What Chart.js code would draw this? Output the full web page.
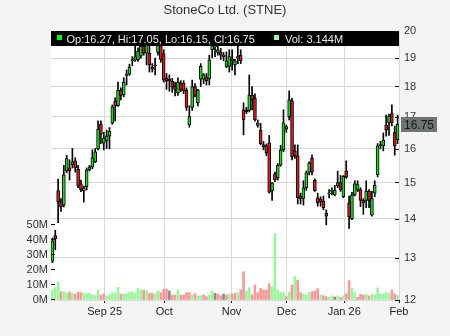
<!DOCTYPE html>
<html>
<head>
<meta charset="utf-8">
<script src="https://cdn.jsdelivr.net/npm/chart.js@4.4.1/dist/chart.umd.min.js"></script>
<style>
  html, body { margin: 0; padding: 0; background: #f4f4f4; }
  canvas { display: block; }
</style>
</head>
<body>
<canvas id="chart" width="450" height="336"></canvas>
<script>
// ----------------------
// DATA (daily candles)
// ----------------------
const opens = [
  12.92, 13.56, 14.77, 14.46, 14.37, 15.33, 15.42, 15.51, 15.63, 15.39,
  14.96, 14.76, 14.88, 15.36, 15.45, 15.60, 15.99, 16.76, 16.16, 16.23,
  16.38, 16.80, 17.50, 17.36, 17.88, 17.71, 18.38, 18.43, 18.90, 18.92,
  18.93, 19.07, 19.44, 19.18, 19.18, 18.68, 18.75, 19.20, 19.45, 19.15,
  18.30, 18.25, 18.18, 18.00, 17.78, 18.12, 18.12, 17.88, 16.73, 17.30,
  18.00, 17.45, 18.25, 18.25, 18.33, 18.25, 19.30, 19.40, 19.20, 19.22,
  19.05, 18.70, 18.70, 18.90, 18.75, 19.00, 19.10, 17.22, 17.22, 17.20,
  17.71, 17.60, 16.72, 16.57, 16.11, 16.08, 16.17, 14.76, 15.25, 15.13,
  15.50, 15.96, 16.60, 17.00, 17.52, 15.93, 15.78, 14.62, 14.55, 14.85,
  15.30, 15.72, 15.07, 14.57, 14.54, 14.48, 14.15, 14.68, 14.75, 14.65,
  14.90, 15.00, 14.60, 15.33, 14.43, 14.00, 14.65, 14.79, 14.80, 14.50,
  14.50, 14.76, 14.10, 14.70, 15.22, 16.08, 16.08, 16.73, 16.80, 17.10,
  16.49, 16.27
];
const highs = [
  13.50, 13.70, 15.10, 14.55, 15.50, 15.80, 15.66, 16.00, 15.72, 15.50,
  15.07, 14.90, 15.42, 15.50, 15.96, 16.00, 16.86, 16.86, 16.50, 16.57,
  16.65, 17.38, 17.62, 18.15, 17.95, 18.30, 18.57, 18.78, 19.05, 19.48,
  19.37, 19.70, 19.66, 19.55, 19.48, 18.80, 19.00, 19.80, 19.60, 19.30,
  18.45, 18.40, 18.28, 18.15, 18.30, 18.20, 18.20, 17.95, 17.35, 18.22,
  18.10, 17.90, 18.80, 18.45, 18.45, 19.10, 19.60, 19.60, 19.50, 19.35,
  19.20, 19.22, 19.30, 19.30, 18.95, 19.48, 19.30, 17.45, 17.30, 18.40,
  18.00, 17.75, 16.89, 16.78, 16.22, 16.14, 16.40, 15.00, 15.30, 15.55,
  16.10, 17.22, 16.73, 17.85, 17.60, 16.11, 16.11, 14.70, 15.05, 15.33,
  15.60, 15.81, 15.10, 14.70, 14.60, 14.62, 14.24, 14.80, 14.85, 14.92,
  15.33, 15.20, 15.20, 15.63, 14.62, 14.72, 15.05, 15.05, 14.85, 14.55,
  15.05, 14.80, 14.75, 15.05, 16.15, 16.22, 16.48, 17.05, 17.08, 17.38,
  16.70, 17.05
];
const lows = [
  12.88, 13.20, 13.90, 14.20, 14.32, 15.28, 15.07, 15.42, 15.30, 14.85,
  14.74, 14.45, 14.79, 15.33, 15.40, 15.57, 15.96, 16.15, 15.96, 16.00,
  15.99, 16.75, 16.86, 17.33, 17.55, 17.65, 18.05, 18.38, 18.72, 18.88,
  18.88, 18.99, 19.10, 18.75, 18.50, 18.50, 18.40, 19.10, 18.85, 18.15,
  17.90, 17.84, 17.80, 17.68, 17.70, 17.82, 17.75, 17.20, 16.66, 17.20,
  17.65, 17.35, 18.00, 18.10, 18.05, 18.05, 19.00, 19.05, 19.10, 18.95,
  18.90, 18.65, 18.50, 18.57, 18.40, 18.80, 18.80, 16.42, 17.10, 17.15,
  17.22, 16.85, 16.66, 16.11, 15.96, 15.78, 14.70, 14.50, 15.02, 15.07,
  15.47, 15.90, 16.50, 16.89, 15.66, 15.70, 14.40, 14.40, 14.37, 14.78,
  15.22, 15.22, 14.75, 14.34, 14.34, 14.24, 13.84, 14.57, 14.65, 14.62,
  14.85, 14.75, 14.57, 15.12, 13.75, 13.98, 14.62, 14.74, 14.33, 14.12,
  14.30, 14.30, 14.07, 14.60, 15.16, 15.99, 15.93, 16.38, 16.40, 16.70,
  15.80, 16.15
];
const closes = [
  13.43, 13.48, 14.46, 14.33, 15.22, 15.70, 15.33, 15.60, 15.42, 14.90,
  14.79, 14.85, 15.36, 15.45, 15.72, 15.90, 16.60, 16.45, 16.32, 16.39,
  16.54, 17.32, 17.35, 17.88, 17.70, 18.15, 18.42, 18.68, 18.93, 19.04,
  19.25, 19.44, 19.18, 19.48, 18.75, 18.60, 18.72, 19.60, 18.95, 18.22,
  18.18, 18.18, 17.98, 17.90, 18.15, 17.88, 17.85, 17.30, 17.00, 18.00,
  17.70, 17.88, 18.70, 18.40, 18.20, 18.93, 19.45, 19.45, 19.30, 19.10,
  19.10, 18.90, 19.05, 18.95, 18.90, 19.05, 18.90, 16.89, 17.15, 17.71,
  17.55, 16.89, 16.80, 16.14, 16.05, 15.87, 14.73, 14.99, 15.07, 15.50,
  15.96, 16.80, 16.68, 17.55, 15.75, 15.78, 14.57, 14.54, 14.85, 15.28,
  15.57, 15.30, 14.77, 14.43, 14.46, 14.30, 14.07, 14.70, 14.78, 14.78,
  15.00, 14.80, 15.18, 15.15, 14.05, 14.65, 14.96, 14.94, 14.50, 14.43,
  14.76, 14.50, 14.55, 14.93, 16.08, 16.12, 16.26, 16.57, 17.02, 16.80,
  16.08, 16.75
];
// volume in millions
const volumes = [
  6.7, 8.2, 12.2, 5.6, 5.6, 4.4, 5.3, 4.4, 3.8, 5.3,
  4.9, 4.4, 4.2, 4.4, 3.1, 2.9, 6.7, 3.3, 4.0, 2.7,
  3.3, 4.9, 4.4, 8.4, 4.0, 4.0, 4.0, 5.1, 5.6, 4.4,
  7.8, 6.7, 6.7, 6.2, 4.4, 4.4, 4.0, 6.0, 4.9, 7.3,
  7.3, 6.0, 3.3, 3.3, 6.7, 3.3, 3.3, 4.9, 4.9, 3.3,
  4.2, 2.7, 2.9, 3.3, 2.2, 3.3, 6.0, 4.4, 4.0, 2.9,
  4.0, 3.3, 4.0, 4.0, 4.4, 4.9, 6.7, 18.9, 6.0, 8.2,
  3.3, 10.0, 4.9, 7.8, 6.7, 6.7, 10.9, 8.9, 44.4, 6.7,
  4.9, 5.3, 2.2, 5.3, 10.0, 15.6, 13.3, 4.9, 3.8, 3.3,
  5.1, 5.6, 6.0, 7.6, 3.3, 2.9, 2.2, 1.8, 2.7, 2.0,
  2.7, 1.6, 2.9, 4.2, 12.9, 7.8, 4.9, 1.8, 3.8, 3.3,
  4.0, 2.7, 3.8, 3.3, 8.0, 3.8, 3.8, 4.9, 4.4, 6.7,
  4.0, 3.144
];

// month boundaries on the bar-index axis
const monthTickAt = [18.3, 39.2, 62.8, 82.1, 102.3, 121.5];
const monthLabels = ['Sep 25', 'Oct', 'Nov', 'Dec', 'Jan 26', 'Feb'];
const priceTicks = [12, 13, 14, 15, 16, 17, 18, 19, 20];
const volumeTicks = [0, 10, 20, 30, 40, 50];
const chartTitle = 'StoneCo Ltd. (STNE)';

// ----------------------
// Datasets
// ----------------------
const FONT = '"Liberation Sans", Arial, sans-serif';
const UP = '#16e016', DOWN = '#e31a1a';
const n = closes.length;
const idx = closes.map((c, i) => i);

const bodyData = idx.map(i => ({ x: i, y: [opens[i], closes[i]] }));
const wickData = idx.map(i => ({ x: i, y: [lows[i], highs[i]] }));
const volData = idx.map(i => ({ x: i, y: volumes[i] }));

const bodyColors = idx.map(i => closes[i] >= opens[i] ? UP : DOWN);
const volColors = idx.map(i => {
  if (i === 0 || closes[i] > closes[i - 1]) return '#9cf59c';
  if (closes[i] < closes[i - 1]) return '#f99a9a';
  return '#8c8c8c';
});

// ----------------------
// Background, legend bar, title, inner ticks, last price box
// ----------------------
const frame = {
  id: 'frame',
  beforeDraw(chart) {
    const { ctx, chartArea: a } = chart;
    ctx.save();
    ctx.fillStyle = '#f4f4f4';
    ctx.fillRect(0, 0, chart.width, chart.height);
    ctx.fillStyle = '#ffffff';
    ctx.fillRect(a.left, a.top, a.right - a.left, a.bottom - a.top);
    ctx.restore();
  },
  afterDraw(chart) {
    const { ctx, chartArea: a, scales } = chart;
    ctx.save();

    // title
    ctx.font = '13px ' + FONT;
    ctx.fillStyle = '#333';
    ctx.textAlign = 'center';
    ctx.textBaseline = 'alphabetic';
    ctx.fillText(chartTitle, chart.width / 2, 13.5);

    // black legend bar
    ctx.fillStyle = '#000';
    ctx.fillRect(a.left, a.top, a.right - a.left, 15);
    ctx.fillStyle = '#00ff00';
    ctx.fillRect(a.left + 6, a.top + 4, 5, 5);
    ctx.fillStyle = '#9cf59c';
    ctx.fillRect(a.left + 223, a.top + 4, 5, 5);
    ctx.font = '11px ' + FONT;
    ctx.fillStyle = '#e8e8e8';
    ctx.textAlign = 'left';
    const last = n - 1;
    ctx.fillText('Op:' + opens[last].toFixed(2) + ', Hi:' + highs[last].toFixed(2) +
      ', Lo:' + lows[last].toFixed(2) + ', Cl:' + closes[last].toFixed(2), a.left + 15.5, a.top + 11.5);
    ctx.fillText('Vol: ' + volumes[last].toFixed(3) + 'M', a.left + 234, a.top + 11.5);

    // tick marks drawn inside the plot
    ctx.strokeStyle = '#111';
    ctx.lineWidth = 1;
    ctx.beginPath();
    priceTicks.forEach(v => {
      const y = Math.round(scales.y.getPixelForValue(v)) + 0.5;
      ctx.moveTo(a.right - 4, y); ctx.lineTo(a.right, y);
    });
    volumeTicks.forEach(v => {
      const y = Math.round(scales.v.getPixelForValue(v)) - 0.5;
      ctx.moveTo(a.left, y); ctx.lineTo(a.left + 4, y);
    });
    ctx.stroke();

    // last price box
    const py = scales.y.getPixelForValue(closes[last]);
    ctx.fillStyle = '#6f7373';
    ctx.fillRect(a.right + 2, Math.round(py) - 7, 36, 15);
    ctx.font = '12px ' + FONT;
    ctx.fillStyle = '#1a1a1a';
    ctx.textBaseline = 'middle';
    ctx.fillText(closes[last].toFixed(2), a.right + 5, py + 1);

    ctx.restore();
  }
};

// ----------------------
// Chart
// ----------------------
Chart.defaults.font.family = FONT;
Chart.defaults.color = '#333';

new Chart(document.getElementById('chart'), {
  type: 'bar',
  data: {
    datasets: [
      {
        label: 'body', data: bodyData, yAxisID: 'y', order: 0,
        backgroundColor: bodyColors, borderColor: '#000', borderWidth: 1,
        borderSkipped: false, barThickness: 3, minBarLength: 1, grouped: false
      },
      {
        label: 'wick', data: wickData, yAxisID: 'y', order: 1,
        backgroundColor: '#000', borderWidth: 0, barThickness: 1, grouped: false
      },
      {
        label: 'volume', data: volData, yAxisID: 'v', order: 2,
        backgroundColor: volColors, borderWidth: 0, barThickness: 2, grouped: false
      }
    ]
  },
  options: {
    responsive: false,
    animation: false,
    devicePixelRatio: 1,
    events: [],
    layout: { padding: { top: 31, left: 0, right: 0, bottom: 0 } },
    plugins: { legend: { display: false }, tooltip: { enabled: false }, title: { display: false } },
    scales: {
      x: {
        type: 'linear', min: -0.5, max: n - 0.5, offset: false,
        afterBuildTicks: s => { s.ticks = monthTickAt.map(v => ({ value: v })); },
        afterFit: s => { s.height = 36; },
        ticks: {
          autoSkip: false, maxRotation: 0, padding: 2,
          font: { size: 11 }, color: '#222',
          callback: (v, i) => monthLabels[i]
        },
        grid: { color: '#d9d9d9', offset: false, drawTicks: true, tickLength: 3, tickColor: '#222' },
        border: { display: false }
      },
      y: {
        type: 'logarithmic', position: 'right', min: 12, max: 20,
        afterBuildTicks: s => { s.ticks = priceTicks.map(v => ({ value: v })); },
        afterFit: s => { s.width = 51; },
        ticks: { autoSkip: false, padding: 5, font: { size: 11 }, color: '#333', callback: v => String(v) },
        grid: { color: '#d9d9d9', drawTicks: false },
        border: { display: false }
      },
      v: {
        type: 'linear', position: 'left', min: 0, max: 179.3,
        afterBuildTicks: s => { s.ticks = volumeTicks.map(v => ({ value: v })); },
        afterFit: s => { s.width = 51; },
        ticks: { autoSkip: false, padding: 3, font: { size: 11 }, color: '#333', callback: v => v + 'M' },
        grid: { drawOnChartArea: false, drawTicks: false },
        border: { display: false }
      }
    }
  },
  plugins: [frame]
});
</script>
</body>
</html>
